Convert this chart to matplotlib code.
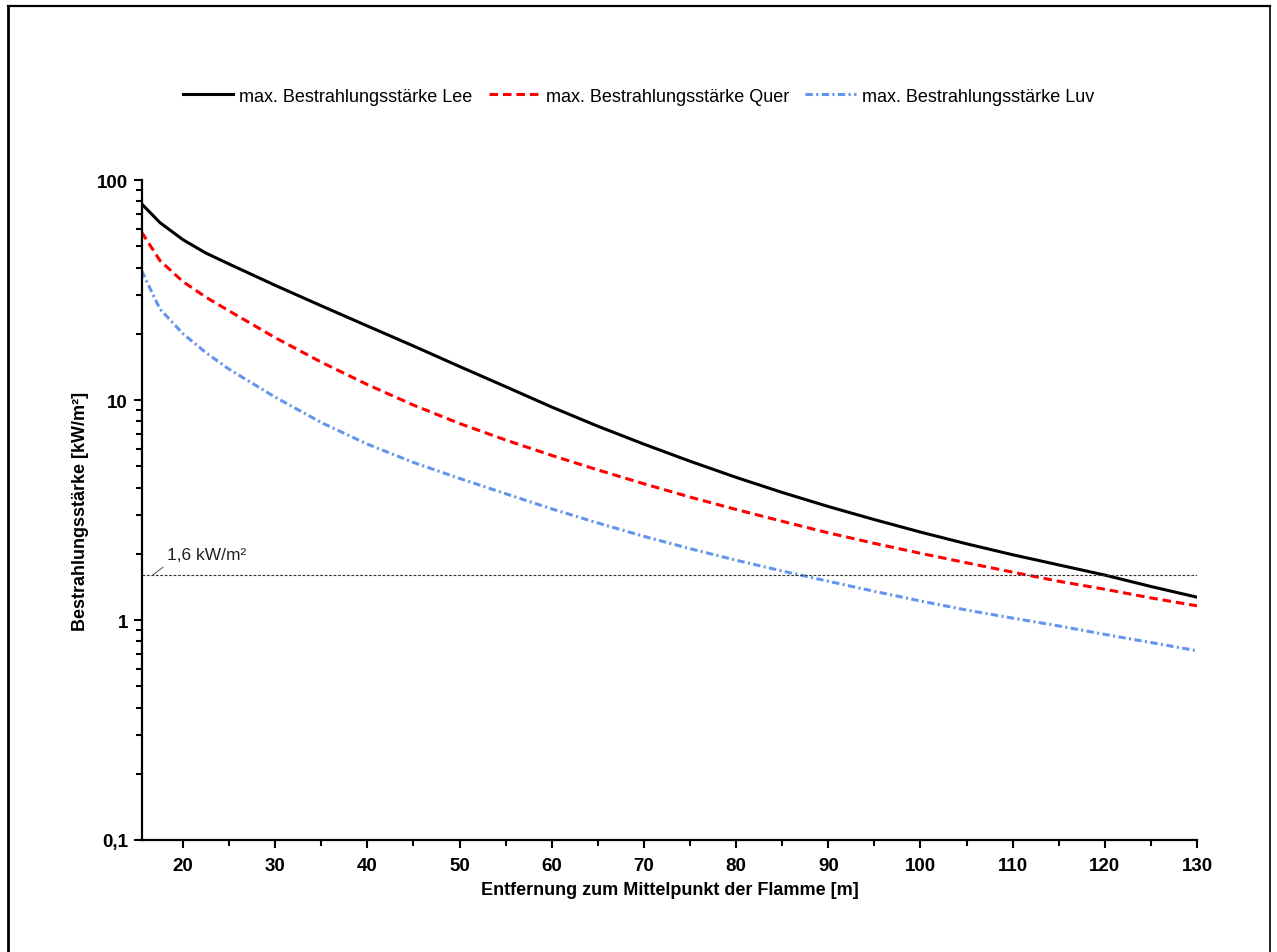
import matplotlib
matplotlib.use("Agg")
import matplotlib.pyplot as plt
from matplotlib.lines import Line2D
from matplotlib.ticker import FixedLocator, NullFormatter

plt.rcParams['font.family'] = ['Liberation Sans', 'DejaVu Sans']

# Data
distance_m = [15.5, 17.5, 20, 22.5, 25, 30, 35, 40, 45, 50, 55, 60, 65, 70, 75, 80,
              85, 90, 95, 100, 105, 110, 115, 120, 125, 130]
lee = [78, 64, 53.5, 46.5, 41.5, 33.2, 26.8, 21.7, 17.6, 14.2, 11.5, 9.29, 7.6, 6.3, 5.27,
       4.45, 3.80, 3.28, 2.86, 2.51, 2.22, 1.98, 1.78, 1.60, 1.42, 1.27]
quer = [58, 43, 34.5, 29.3, 25.4, 19.2, 14.86, 11.75, 9.48, 7.82, 6.58, 5.6, 4.81, 4.16, 3.62,
        3.18, 2.81, 2.49, 2.23, 2.01, 1.82, 1.65, 1.50, 1.38, 1.26, 1.16]
luv = [38.7, 25.9, 20.0, 16.4, 13.8, 10.3, 7.9, 6.3, 5.2, 4.4, 3.75, 3.2, 2.76, 2.40, 2.11,
       1.87, 1.67, 1.50, 1.35, 1.22, 1.11, 1.02, 0.94, 0.86, 0.79, 0.725]
series_labels = ["max. Bestrahlungsstärke Lee", "max. Bestrahlungsstärke Quer",
                 "max. Bestrahlungsstärke Luv"]
threshold = 1.6
threshold_label = "1,6 kW/m²"
x_major = [20, 30, 40, 50, 60, 70, 80, 90, 100, 110, 120, 130]
x_minor = [25, 35, 45, 55, 65, 75, 85, 95, 105, 115, 125]
y_major = [0.1, 1, 10, 100]
y_major_labels = ["0,1", "1", "10", "100"]
y_minor = [m * d for d in (0.1, 1, 10) for m in range(2, 10)]

W, H = 1277, 953
fig = plt.figure(figsize=(W / 100, H / 100), dpi=100)
ax = fig.add_axes([142 / W, 1 - 841 / H, (1197 - 142) / W, (841 - 181) / H])

ax.plot(distance_m, lee, color='black', lw=2.2, solid_joinstyle='round', label=series_labels[0])
ax.plot(distance_m, quer, color='#ff0000', lw=2.2, dashes=(2.8, 1.6), label=series_labels[1])
ax.plot(distance_m, luv, color='#6495ed', lw=2.2, dashes=(2.4, 1.1, 0.7, 1.1), label=series_labels[2])

ax.plot([15.55, 130], [threshold, threshold], color='#333333', lw=0.8, dashes=(2.5, 1.5))
ax.annotate('', xy=(16.7, threshold), xytext=(17.85, 1.74),
            arrowprops=dict(arrowstyle='-', lw=0.6, color='#333333', shrinkA=0, shrinkB=0))
ax.text(18.3, 1.83, threshold_label, fontsize=12.5, ha='left', va='bottom', color='#222222')

ax.set_yscale('log')
ax.set_xlim(15.55, 130)
ax.set_ylim(0.1, 100)
ax.spines['top'].set_visible(False)
ax.spines['right'].set_visible(False)
ax.spines['left'].set_linewidth(1.6)
ax.spines['bottom'].set_linewidth(1.6)

ax.xaxis.set_major_locator(FixedLocator(x_major))
ax.xaxis.set_minor_locator(FixedLocator(x_minor))
ax.set_xticklabels([str(v) for v in x_major])
ax.yaxis.set_major_locator(FixedLocator(y_major))
ax.yaxis.set_minor_locator(FixedLocator(y_minor))
ax.set_yticklabels(y_major_labels)
ax.yaxis.set_minor_formatter(NullFormatter())

ax.tick_params(axis='both', which='major', direction='out', length=6, width=1.5,
               labelsize=13.5)
ax.tick_params(axis='x', which='major', pad=6)
ax.tick_params(axis='y', which='major', pad=4)
ax.tick_params(axis='both', which='minor', direction='out', length=4.5, width=1.5)
for lab in ax.get_xticklabels() + ax.get_yticklabels():
    lab.set_fontweight('bold')

ax.set_xlabel("Entfernung zum Mittelpunkt der Flamme [m]", fontsize=13,
              fontweight='bold', labelpad=5)
ax.set_ylabel("Bestrahlungsstärke [kW/m²]", fontsize=13, fontweight='bold', labelpad=6)

fig.legend(loc='center', bbox_to_anchor=(0.5, 1 - 97 / H), ncol=3, frameon=False,
           fontsize=13, handlelength=2.8, handletextpad=0.35, columnspacing=0.9)

# outer frame
for (x0, y0, x1, y1, lw) in [(8, 7, 8, 960, 2.0), (8, 7, 1270, 7, 1.6), (1270, 7, 1270, 960, 1.2)]:
    fig.add_artist(Line2D([x0 / W, x1 / W], [1 - y0 / H, 1 - y1 / H], color='black', lw=lw,
                          transform=fig.transFigure))

fig.savefig("out.png", dpi=100)
